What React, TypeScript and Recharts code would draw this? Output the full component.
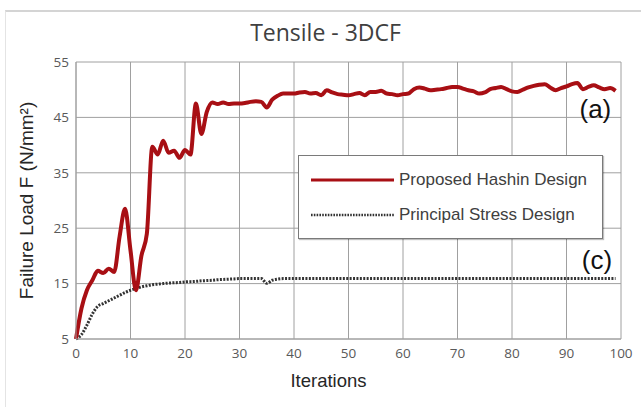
import React from 'react';
import { LineChart, Line, XAxis, YAxis, CartesianGrid, Legend, ReferenceDot } from 'recharts';

const iterations = [
  0, 1, 2, 3, 4, 5, 6, 7, 8, 9, 10, 11, 12, 13, 14, 15, 16, 17, 18, 19,
  20, 21, 22, 23, 24, 25, 26, 27, 28, 29, 30, 31, 32, 33, 34, 35, 36, 37, 38, 39,
  40, 41, 42, 43, 44, 45, 46, 47, 48, 49, 50, 51, 52, 53, 54, 55, 56, 57, 58, 59,
  60, 61, 62, 63, 64, 65, 66, 67, 68, 69, 70, 71, 72, 73, 74, 75, 76, 77, 78, 79,
  80, 81, 82, 83, 84, 85, 86, 87, 88, 89, 90, 91, 92, 93, 94, 95, 96, 97, 98, 99,
];

const hashin = [
  5, 10.5, 13.8, 15.6, 17.3, 16.9, 17.7, 17.1, 23.5, 28.5,
  21, 13.8, 20, 24, 39.7, 38.3, 40.8, 38.6, 39.0, 37.7,
  39.1, 38.3, 47.5, 42, 46, 47.7, 47.4, 47.7, 47.4, 47.5,
  47.5, 47.6, 47.8, 47.9, 47.8, 46.8, 48.2, 48.9, 49.3, 49.3,
  49.3, 49.5, 49.6, 49.3, 49.4, 49.0, 49.9, 49.5, 49.2, 49.1,
  49.0, 49.2, 49.4, 49.0, 49.6, 49.6, 49.8, 49.3, 49.2, 49.0,
  49.2, 49.3, 50.1, 50.4, 50.2, 49.9, 50.0, 50.1, 50.3, 50.5,
  50.5, 50.2, 49.9, 49.7, 49.3, 49.5, 50.1, 50.3, 50.5, 50.1,
  49.7, 49.6, 50.0, 50.4, 50.7, 50.9, 51.0, 50.4, 49.9, 50.3,
  50.6, 51.0, 51.2, 50.1, 50.5, 50.8, 50.4, 50.1, 50.3, 49.8,
];

const principal = [
  5, 5.8, 7.5, 9.5, 10.9, 11.4, 11.9, 12.4, 12.9, 13.4,
  13.8, 14.1, 14.4, 14.6, 14.8, 14.9, 15.0, 15.1, 15.15, 15.2,
  15.3, 15.35, 15.4, 15.5, 15.55, 15.6, 15.7, 15.75, 15.8, 15.85,
  15.9, 15.9, 15.9, 15.9, 15.9, 15.05, 15.6, 15.8, 15.9, 15.9,
  15.9, 15.9, 15.9, 15.9, 15.9, 15.9, 15.9, 15.9, 15.9, 15.9,
  15.9, 15.9, 15.9, 15.9, 15.9, 15.9, 15.9, 15.9, 15.9, 15.9,
  15.9, 15.9, 15.9, 15.9, 15.9, 15.9, 15.9, 15.9, 15.9, 15.9,
  15.9, 15.9, 15.9, 15.9, 15.9, 15.9, 15.9, 15.9, 15.9, 15.9,
  15.9, 15.9, 15.9, 15.9, 15.9, 15.9, 15.9, 15.9, 15.9, 15.9,
  15.9, 15.9, 15.9, 15.9, 15.9, 15.9, 15.9, 15.9, 15.9, 15.9,
];

const xTicks = [0, 10, 20, 30, 40, 50, 60, 70, 80, 90, 100];
const yTicks = [5, 15, 25, 35, 45, 55];
const seriesNames = ['Proposed Hashin Design', 'Principal Stress Design'];
const title = 'Tensile - 3DCF';
const xLabel = 'Iterations';
const yLabel = 'Failure Load F (N/mm²)';
const annotations = [
  { text: '(a)', x: 95.3, y: 46.6 },
  { text: '(c)', x: 95.6, y: 19.3 },
];

const data = iterations.map((it, i) => ({ iter: it, hashin: hashin[i], principal: principal[i] }));

const RED = '#a80f14';
const DOT = '#333333';
const GRID = '#a0a0a0';
const TICK_FONT = "'Open Sans', 'Noto Sans', sans-serif";
const LABEL_FONT = "'Liberation Sans', Arial, sans-serif";

const LegendBox = () => (
  <div
    style={{
      width: 305,
      height: 84,
      boxSizing: 'border-box',
      border: '1px solid #7a7a7a',
      background: '#fff',
      boxShadow: '1px 1px 1px rgba(0,0,0,0.25)',
      position: 'relative',
      fontFamily: LABEL_FONT,
      fontSize: 17,
      color: '#404040',
    }}
  >
    <svg width={100} height={84} style={{ position: 'absolute', left: 0, top: 0 }}>
      <line x1={12} x2={95} y1={24} y2={24} stroke={RED} strokeWidth={3} />
      <line x1={12} x2={95} y1={59} y2={59} stroke={DOT} strokeWidth={2.5} strokeDasharray="1.6 1.2" />
    </svg>
    <div style={{ position: 'absolute', left: 100, top: 13, lineHeight: '22px', whiteSpace: 'nowrap' }}>{seriesNames[0]}</div>
    <div style={{ position: 'absolute', left: 100, top: 48, lineHeight: '22px', whiteSpace: 'nowrap' }}>{seriesNames[1]}</div>
  </div>
);

export default function App() {
  return (
    <div style={{ position: 'absolute', left: 0, top: 0, width: 641, height: 407, background: '#fff', overflow: 'hidden' }}>
      <div
        style={{
          position: 'absolute',
          left: 5,
          top: 10,
          width: 700,
          height: 500,
          borderTop: '2px solid #d4d4d4',
          borderLeft: '1px solid #e4e4e4',
        }}
      />
      <div
        style={{
          position: 'absolute',
          left: 0,
          width: 641,
          top: 17,
          textAlign: 'center',
          paddingLeft: 10,
          boxSizing: 'border-box',
          fontFamily: TICK_FONT,
          fontSize: 23,
          color: '#404040',
          lineHeight: '30px',
        }}
      >
        {title}
      </div>
      <div style={{ position: 'absolute', left: 0, top: 0 }}>
        <LineChart width={641} height={407} data={data} margin={{ top: 62, right: 20, bottom: 38, left: 6 }}>
          <CartesianGrid stroke={GRID} strokeWidth={1} horizontal vertical />
          <XAxis
            dataKey="iter"
            type="number"
            domain={[0, 100]}
            ticks={xTicks}
            interval={0}
            height={30}
            tickLine={false}
            tickSize={0}
            tickMargin={9}
            axisLine={{ stroke: GRID }}
            tick={{ fill: '#595959', fontSize: 13.5, fontFamily: TICK_FONT }}
            label={{ value: xLabel, position: 'bottom', offset: 5, dx: -20, fill: '#262626', fontSize: 18.5, fontFamily: LABEL_FONT }}
          />
          <YAxis
            type="number"
            domain={[5, 55]}
            ticks={yTicks}
            interval={0}
            width={70}
            tickLine={false}
            tickSize={0}
            tickMargin={7}
            axisLine={{ stroke: GRID }}
            tick={{ fill: '#595959', fontSize: 13.5, fontFamily: TICK_FONT }}
            label={{ value: yLabel, angle: -90, position: 'center', dx: -15, fill: '#262626', fontSize: 19, fontFamily: LABEL_FONT }}
          />
          <Legend
            layout="vertical"
            align="center"
            verticalAlign="middle"
            content={() => <LegendBox />}
            wrapperStyle={{ position: 'absolute', left: 298, top: 155, width: 305, height: 84 }}
          />
          <Line
            type="monotone"
            dataKey="principal"
            name={seriesNames[1]}
            stroke={DOT}
            strokeWidth={3}
            strokeDasharray="2 1.4"
            dot={false}
            isAnimationActive={false}
          />
          <Line
            type="monotone"
            dataKey="hashin"
            name={seriesNames[0]}
            stroke={RED}
            strokeWidth={4}
            dot={false}
            isAnimationActive={false}
          />
          {annotations.map((a) => (
            <ReferenceDot
              key={a.text}
              x={a.x}
              y={a.y}
              r={0}
              fill="none"
              stroke="none"
              ifOverflow="visible"
              label={{
                value: a.text,
                position: 'center',
                fill: '#111',
                fontSize: 26,
                fontFamily: "'Liberation Sans Narrow', 'Liberation Sans', Arial, sans-serif",
              }}
            />
          ))}
        </LineChart>
      </div>
    </div>
  );
}
